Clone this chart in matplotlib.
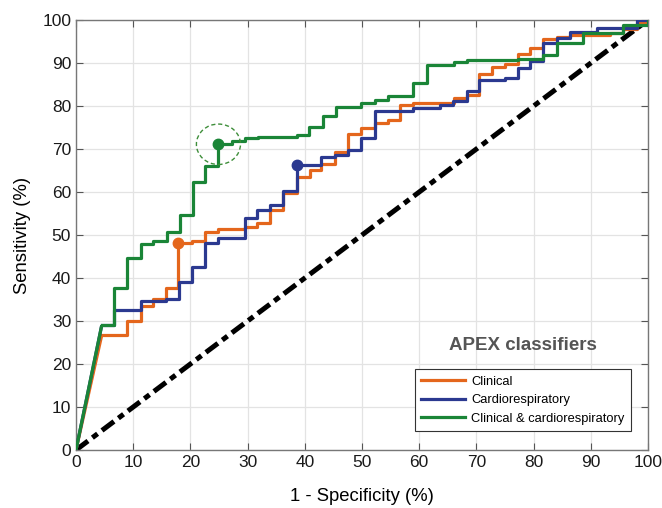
import matplotlib
matplotlib.use("Agg")
import matplotlib.pyplot as plt
from matplotlib.patches import Ellipse

plt.rcParams['font.family'] = ['Liberation Sans', 'DejaVu Sans']

# ROC step points (fpr %, tpr %): first segment is a straight line from (0,0)
clin_fpr = [0, 4.5, 9.0, 11.3, 13.5, 15.8, 17.9, 20.2, 22.6, 24.9, 29.5, 31.6, 33.9, 36.2,
            38.6, 40.9, 42.9, 45.3, 47.6, 49.9, 52.3, 54.5, 56.6, 59.0, 66.0, 68.3, 70.5,
            72.7, 75.0, 77.2, 79.4, 81.7, 84.0, 86.4, 93.4, 95.7, 98.0, 100]
clin_tpr = [0, 26.7, 30.1, 33.6, 35.0, 37.6, 48.1, 48.7, 50.8, 51.4, 51.9, 52.9, 55.7, 59.8,
            63.6, 65.1, 66.6, 69.4, 73.6, 74.8, 76.1, 76.7, 80.2, 80.8, 81.8, 82.6, 87.4,
            89.0, 89.8, 92.0, 93.5, 95.6, 96.0, 96.4, 96.9, 97.9, 99.6, 100]

cardio_fpr = [0, 4.5, 6.7, 11.3, 15.8, 18.0, 20.2, 22.6, 24.9, 29.5, 31.6, 33.9, 36.2, 38.6,
              42.9, 45.3, 47.6, 49.9, 52.2, 59.0, 63.6, 65.9, 68.3, 70.5, 75.0, 77.2, 79.4,
              81.7, 84.0, 86.4, 91.0, 98.0, 100]
cardio_tpr = [0, 29.0, 32.6, 34.7, 35.1, 39.1, 42.6, 48.1, 49.2, 53.9, 55.7, 57.0, 60.3, 66.3,
              68.1, 68.6, 69.8, 72.6, 78.9, 79.6, 80.3, 81.2, 83.4, 86.0, 86.4, 88.8, 90.5,
              94.6, 95.9, 97.3, 98.1, 100.0, 100]

comb_fpr = [0, 4.5, 6.7, 8.9, 11.3, 13.4, 15.9, 18.1, 20.4, 22.5, 24.9, 27.2, 29.5, 31.9,
            38.6, 40.8, 43.1, 45.4, 49.9, 52.3, 54.6, 59.0, 61.3, 66.0, 68.3, 77.2, 81.7,
            84.0, 88.7, 95.7, 100]
comb_tpr = [0, 29.0, 37.6, 44.7, 47.8, 48.7, 50.8, 54.7, 62.4, 66.1, 71.1, 71.9, 72.5, 72.8,
            73.2, 75.2, 77.7, 79.8, 80.8, 81.5, 82.3, 85.4, 89.5, 90.2, 90.6, 91.0, 91.8,
            94.7, 96.9, 98.9, 100]

# operating points
clin_op = (17.9, 48.1)
cardio_op = (38.6, 66.3)
comb_op = (24.9, 71.1)

labels = ['Clinical', 'Cardiorespiratory', 'Clinical & cardiorespiratory']
colors = ['#E4661C', '#2B3990', '#1A8537']
ticks = list(range(0, 101, 10))

fig = plt.figure(figsize=(6.62, 5.08), dpi=100)
ax = fig.add_axes([0.1148, 0.1142, 0.8641, 0.8464])

ax.plot([0, 100], [0, 100], color='black', linestyle=(0, (3.0, 1.1, 1.3, 1.1)),
        linewidth=3.6, zorder=2)

series = [(clin_fpr, clin_tpr, clin_op), (cardio_fpr, cardio_tpr, cardio_op),
          (comb_fpr, comb_tpr, comb_op)]
for (fx, ty, op), lab, col in zip(series, labels, colors):
    # straight initial segment
    ax.plot(fx[:2], ty[:2], color=col, linewidth=2.3, solid_capstyle='butt', zorder=3)
    ax.step(fx[1:], ty[1:], where='post', color=col, linewidth=2.3, label=lab, zorder=3)
    ax.plot([op[0]], [op[1]], 'o', color=col, markersize=7.5, zorder=4)

ax.add_patch(Ellipse(comb_op, width=7.7, height=9.4, fill=False, edgecolor='#3E8E3A',
                     linestyle=(0, (3, 2)), linewidth=1.0, zorder=4))

ax.set_xlim(0, 100)
ax.set_ylim(0, 100)
ax.set_xticks(ticks)
ax.set_yticks(ticks)
ax.grid(True, color='#E3E3E3', linewidth=0.9)
ax.set_axisbelow(True)
ax.tick_params(direction='in', top=True, right=True, labelsize=12.5, length=5,
               color='#555555', labelcolor='#1a1a1a')
for s in ax.spines.values():
    s.set_color('#777777')
    s.set_linewidth(1.0)

ax.set_xlabel('1 - Specificity (%)', fontsize=13.3, labelpad=13)
ax.set_ylabel('Sensitivity (%)', fontsize=13.3, labelpad=8)

ax.text(78.1, 24.4, 'APEX classifiers', fontsize=13.5, fontweight='bold', color='#555555',
        ha='center', va='center')

leg = ax.legend(loc='lower right', bbox_to_anchor=(0.982, 0.029), fontsize=9.3,
                fancybox=False, framealpha=1, edgecolor='#333333', handlelength=3.4,
                borderpad=0.5, labelspacing=0.5, handletextpad=0.5)
leg.get_frame().set_linewidth(0.8)

fig.savefig('out.png', dpi=100)
